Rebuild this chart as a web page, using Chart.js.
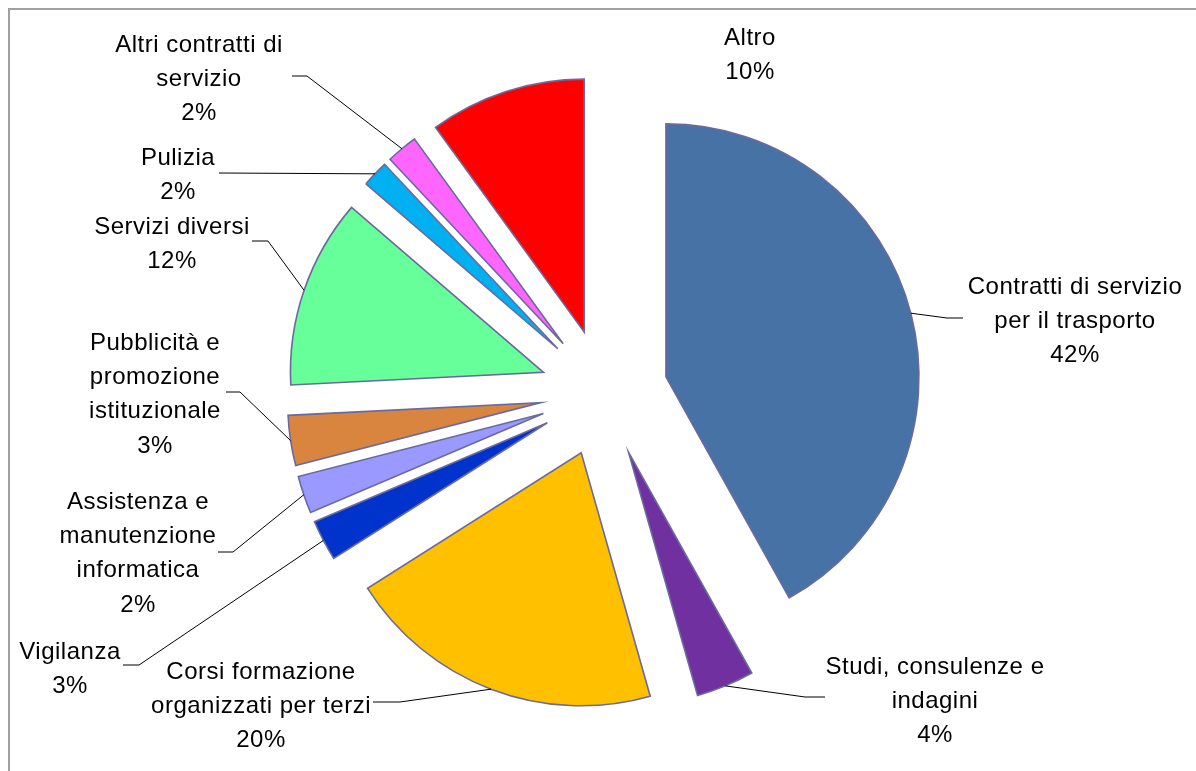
<!DOCTYPE html>
<html>
<head>
<meta charset="utf-8">
<title>Ripartizione contratti di servizio</title>
<script src="https://cdn.jsdelivr.net/npm/chart.js@4.4.1/dist/chart.umd.min.js"></script>
<style>
  html, body { margin: 0; padding: 0; background: #fff; overflow: hidden; }
  #wrap { position: absolute; left: 0; top: 0; width: 1196px; height: 771px; }
  #frame { position: absolute; left: 8px; top: 8px; width: 1400px; height: 1000px; border: 2px solid #a0a0a0; box-sizing: border-box; }
</style>
</head>
<body>
<div id="frame"></div>
<div id="wrap"><canvas id="pie"></canvas></div>
<script>
// Categories (multi-line labels, as wrapped in the original)
const categories = [
  ['Contratti di servizio', 'per il trasporto'],
  ['Studi, consulenze e', 'indagini'],
  ['Corsi formazione', 'organizzati per terzi'],
  ['Vigilanza'],
  ['Assistenza e', 'manutenzione', 'informatica'],
  ['Pubblicità e', 'promozione', 'istituzionale'],
  ['Servizi diversi'],
  ['Pulizia'],
  ['Altri contratti di', 'servizio'],
  ['Altro']
];

// Shares in percent
const shares = [41.9, 3.7, 20.4, 2.6, 2.4, 3.2, 12.1, 1.7, 2.0, 10.0];

const sliceColors = ['#4672a6', '#7030a0', '#ffc000', '#0033cc', '#9999ff',
                     '#d9853f', '#66ff99', '#00b0f0', '#ff66ff', '#ff0000'];

// where each label sits: centre x, first line y, leader start [x, y, elbow x]
const labelLayout = [
  { cx: 1075, y: 287, lead: [963, 318, 947] },
  { cx: 935, y: 667, lead: [825, 697, 805] },
  { cx: 261, y: 672, lead: [373, 702, 400] },
  { cx: 70, y: 652, lead: [123, 665, 139] },
  { cx: 138, y: 502, lead: [218, 552, 233] },
  { cx: 155, y: 343, lead: [226, 392, 240] },
  { cx: 172, y: 227, lead: [252, 241, 268] },
  { cx: 178, y: 158, lead: [219, 173, 219] },
  { cx: 199, y: 45, lead: [292, 76, 307] },
  { cx: 750, y: 38, lead: null }
];

const EXPLODE = 64;
const LINE_H = 34.3;

const total = shares.reduce((a, b) => a + b, 0);

// draw each arc pushed out along its bisector
const explodePlugin = {
  id: 'explode',
  beforeDatasetDraw(chart, args) {
    const ctx = chart.ctx;
    args.meta.data.forEach(arc => {
      const mid = (arc.startAngle + arc.endAngle) / 2;
      ctx.save();
      ctx.translate(Math.cos(mid) * EXPLODE, Math.sin(mid) * EXPLODE);
      arc.draw(ctx);
      ctx.restore();
    });
    return false;
  }
};

const labelPlugin = {
  id: 'outsideLabels',
  afterDatasetsDraw(chart) {
    const ctx = chart.ctx;
    const arcs = chart.getDatasetMeta(0).data;
    ctx.save();
    ctx.font = '24px "Liberation Sans", Arial, sans-serif';
    ctx.letterSpacing = '0.5px';
    ctx.fillStyle = '#000';
    ctx.textAlign = 'center';
    ctx.textBaseline = 'middle';
    categories.forEach((lines, i) => {
      const lay = labelLayout[i];
      const pct = Math.round(shares[i] / total * 100) + '%';
      lines.concat([pct]).forEach((t, k) => {
        ctx.fillText(t, lay.cx, lay.y + k * LINE_H);
      });
      if (lay.lead) {
        const arc = arcs[i];
        const mid = (arc.startAngle + arc.endAngle) / 2;
        const r = arc.outerRadius + EXPLODE;
        const ex = arc.x + Math.cos(mid) * r;
        const ey = arc.y + Math.sin(mid) * r;
        ctx.beginPath();
        ctx.strokeStyle = '#000';
        ctx.lineWidth = 1;
        ctx.moveTo(lay.lead[0], lay.lead[1]);
        ctx.lineTo(lay.lead[2], lay.lead[1]);
        ctx.lineTo(ex, ey);
        ctx.stroke();
      }
    });
    ctx.restore();
  }
};

new Chart(document.getElementById('pie'), {
  type: 'pie',
  data: {
    labels: categories,
    datasets: [{
      data: shares,
      backgroundColor: sliceColors,
      borderColor: '#6a6a9e',
      borderWidth: 1.6,
      borderJoinStyle: 'miter',
      radius: 253
    }]
  },
  options: {
    responsive: true,
    maintainAspectRatio: false,
    animation: false,
    events: [],
    layout: { padding: { left: 12, top: 15, right: 0, bottom: 0 } },
    plugins: {
      legend: { display: false },
      tooltip: { enabled: false }
    }
  },
  plugins: [explodePlugin, labelPlugin]
});
</script>
</body>
</html>
